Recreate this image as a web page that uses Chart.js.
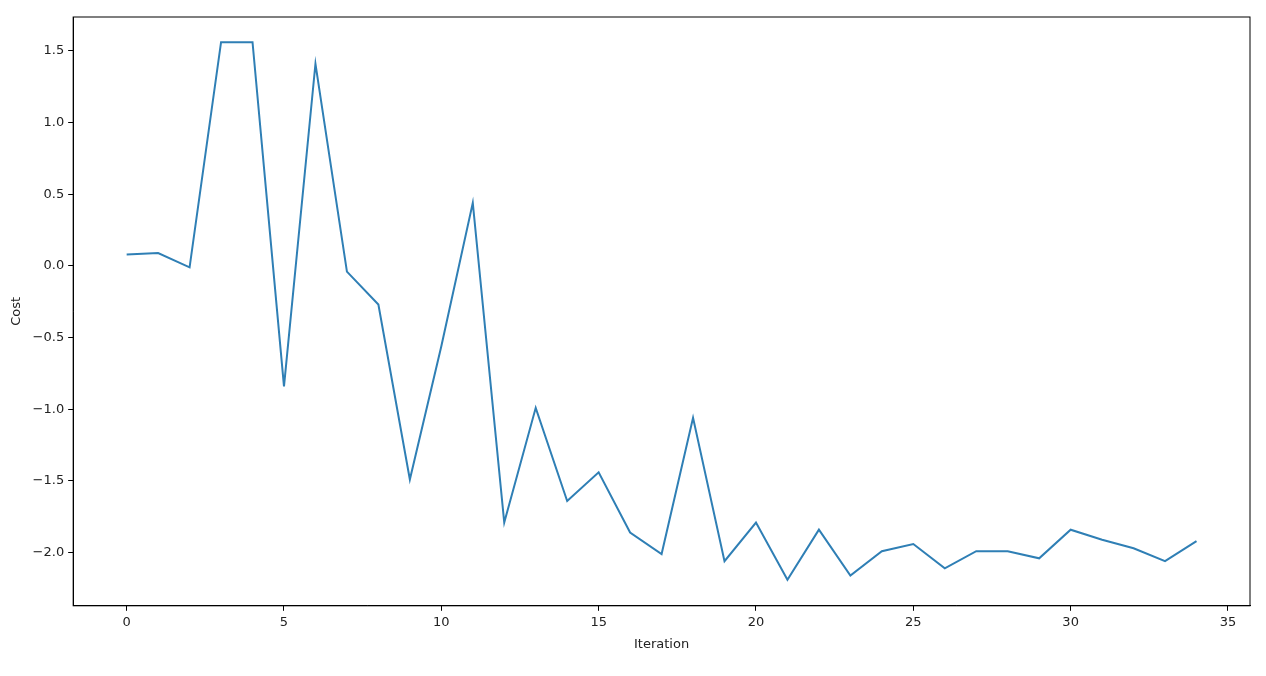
<!DOCTYPE html>
<html>
<head>
<meta charset="utf-8">
<script src="https://cdn.jsdelivr.net/npm/chart.js@4/dist/chart.umd.min.js"></script>
<style>
  html, body { margin: 0; padding: 0; background: #fff; }
</style>
</head>
<body>
<canvas id="area" width="1266" height="676"></canvas>
<script>
var iterations = [];
for (var i = 0; i < 35; i++) iterations.push(i);
var cost = [0.08, 0.09, -0.01, 1.56, 1.56, -0.84, 1.41, -0.04, -0.27, -1.49,
            -0.56, 0.44, -1.79, -0.99, -1.64, -1.44, -1.86, -2.01, -1.06, -2.06,
            -1.79, -2.19, -1.84, -2.16, -1.99, -1.94, -2.11, -1.99, -1.99, -2.04,
            -1.84, -1.91, -1.97, -2.06, -1.92];
var xTicks = [0, 5, 10, 15, 20, 25, 30, 35];
var yTicks = [-2.0, -1.5, -1.0, -0.5, 0.0, 0.5, 1.0, 1.5];

Chart.defaults.font.family = "DejaVu Sans";
Chart.defaults.font.size = 13;
Chart.defaults.color = "#222";

// box around the plot area
var frame = {
  id: 'frame',
  afterDraw: function (c) {
    var a = c.chartArea, g = c.ctx;
    g.save();
    g.strokeStyle = '#000';
    g.lineWidth = 1;
    g.strokeRect(a.left, a.top, a.right - a.left, a.bottom - a.top);
    g.restore();
  }
};

new Chart(document.getElementById("area"), {
  type: 'line',
  data: {
    datasets: [{
      label: "Cost",
      data: iterations.map(function (x, k) { return { x: x, y: cost[k] }; }),
      borderColor: '#2f7fb5',
      borderWidth: 2,
      pointRadius: 0,
      tension: 0,
      fill: false
    }]
  },
  options: {
    responsive: false,
    animation: false,
    layout: { padding: { top: 17, right: 16, bottom: 20, left: 5 } },
    plugins: { legend: { display: false }, tooltip: { enabled: false } },
    scales: {
      x: {
        type: 'linear', min: -1.7, max: 35.7,
        afterBuildTicks: function (s) { s.ticks = xTicks.map(function (v) { return { value: v }; }); },
        grid: { drawOnChartArea: false, tickLength: 5, color: '#000' },
        border: { color: '#000' },
        ticks: { padding: 4, maxRotation: 0, autoSkip: false },
        title: { display: true, text: 'Iteration', padding: { top: 2 } }
      },
      y: {
        min: -2.371, max: 1.736,
        afterBuildTicks: function (s) { s.ticks = yTicks.map(function (v) { return { value: v }; }); },
        grid: { drawOnChartArea: false, tickLength: 5, color: '#000' },
        border: { color: '#000' },
        ticks: { padding: 4, autoSkip: false, callback: function (v) { return v.toFixed(1).replace('-', '\u2212'); } },
        title: { display: true, text: 'Cost' }
      }
    }
  },
  plugins: [frame]
});
</script>
</body>
</html>
